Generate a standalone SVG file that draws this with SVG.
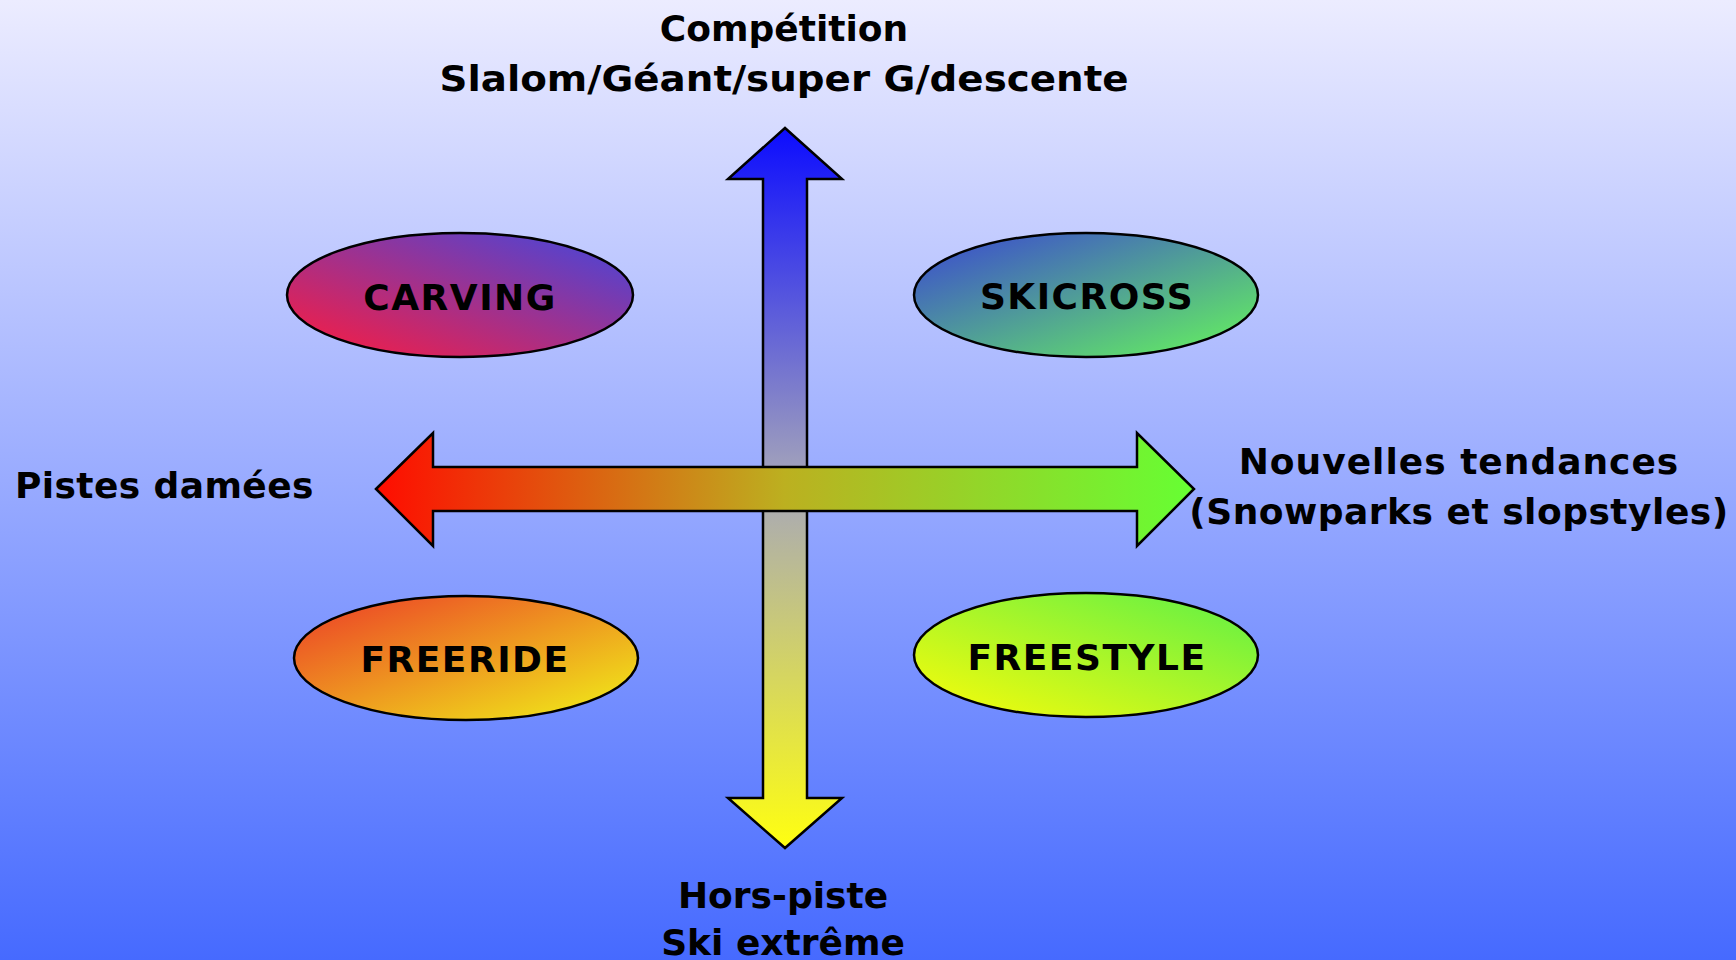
<svg xmlns="http://www.w3.org/2000/svg" width="1736" height="960" viewBox="0 0 1736 960">
<defs>
<linearGradient id="bg" x1="0" y1="0" x2="0" y2="1">
<stop offset="0" stop-color="#ececff"/>
<stop offset="1" stop-color="#466aff"/>
</linearGradient>
<linearGradient id="gv" gradientUnits="userSpaceOnUse" x1="0" y1="128" x2="0" y2="848">
<stop offset="0" stop-color="#0c0cff"/>
<stop offset="0.5" stop-color="#a8a8b8"/>
<stop offset="1" stop-color="#ffff10"/>
</linearGradient>
<linearGradient id="gh" gradientUnits="userSpaceOnUse" x1="376" y1="0" x2="1194" y2="0">
<stop offset="0" stop-color="#ff0c00"/>
<stop offset="0.5" stop-color="#bcb020"/>
<stop offset="1" stop-color="#66ff33"/>
</linearGradient>
<linearGradient id="gCarving" x1="0" y1="1" x2="1" y2="0">
<stop offset="0" stop-color="#ff1a3c"/>
<stop offset="1" stop-color="#4048e0"/>
</linearGradient>
<linearGradient id="gSkicross" x1="0" y1="0" x2="1" y2="1">
<stop offset="0" stop-color="#3a44d4"/>
<stop offset="1" stop-color="#66f85a"/>
</linearGradient>
<linearGradient id="gFreeride" x1="0" y1="0" x2="1" y2="1">
<stop offset="0" stop-color="#ec3a28"/>
<stop offset="1" stop-color="#f0f418"/>
</linearGradient>
<linearGradient id="gFreestyle" x1="0" y1="1" x2="1" y2="0">
<stop offset="0" stop-color="#fcfc08"/>
<stop offset="1" stop-color="#5cf048"/>
</linearGradient>
</defs>
<style>
.t{font-family:"DejaVu Sans","Verdana",sans-serif;font-weight:bold;font-size:36px;fill:#000;text-anchor:middle}
.e{stroke:#000;stroke-width:2.5}
.a{stroke:#000;stroke-width:2.5;stroke-linejoin:miter}
</style>
<rect x="0" y="0" width="1736" height="960" fill="url(#bg)"/>
<g id="connectors">
<polygon class="a" fill="url(#gv)" points="785,128 842,179 807,179 807,798 842,798 785,848 728,798 763,798 763,179 728,179"/>
<polygon class="a" fill="url(#gh)" points="376,489 433,433 433,467 1137,467 1137,433 1194,489 1137,546 1137,511 433,511 433,546"/>
</g>
<g id="carving">
<ellipse class="e" cx="460" cy="295" rx="173" ry="62" fill="url(#gCarving)"/>
<text class="t" x="460" y="310" letter-spacing="1.5">CARVING</text>
</g>
<g id="skicross">
<ellipse class="e" cx="1086" cy="295" rx="172" ry="62" fill="url(#gSkicross)"/>
<text class="t" x="1087" y="309" letter-spacing="1.5">SKICROSS</text>
</g>
<g id="freeride">
<ellipse class="e" cx="466" cy="658" rx="172" ry="62" fill="url(#gFreeride)"/>
<text class="t" x="465" y="672" letter-spacing="1.5">FREERIDE</text>
</g>
<g id="freestyle">
<ellipse class="e" cx="1086" cy="655" rx="172" ry="62" fill="url(#gFreestyle)"/>
<text class="t" x="1087" y="670" letter-spacing="1.5">FREESTYLE</text>
</g>
<g id="label-top">
<text class="t" x="784" y="41">Compétition</text>
<text class="t" x="784" y="91" textLength="689" lengthAdjust="spacingAndGlyphs">Slalom/Géant/super G/descente</text>
</g>
<g id="label-left">
<text class="t" x="15" y="498" style="text-anchor:start" letter-spacing="0.4">Pistes damées</text>
</g>
<g id="label-right">
<text class="t" x="1459" y="474" letter-spacing="1">Nouvelles tendances</text>
<text class="t" x="1459" y="524" letter-spacing="0.5">(Snowparks et slopstyles)</text>
</g>
<g id="label-bottom">
<text class="t" x="783" y="908">Hors-piste</text>
<text class="t" x="783" y="955">Ski extrême</text>
</g>
</svg>
